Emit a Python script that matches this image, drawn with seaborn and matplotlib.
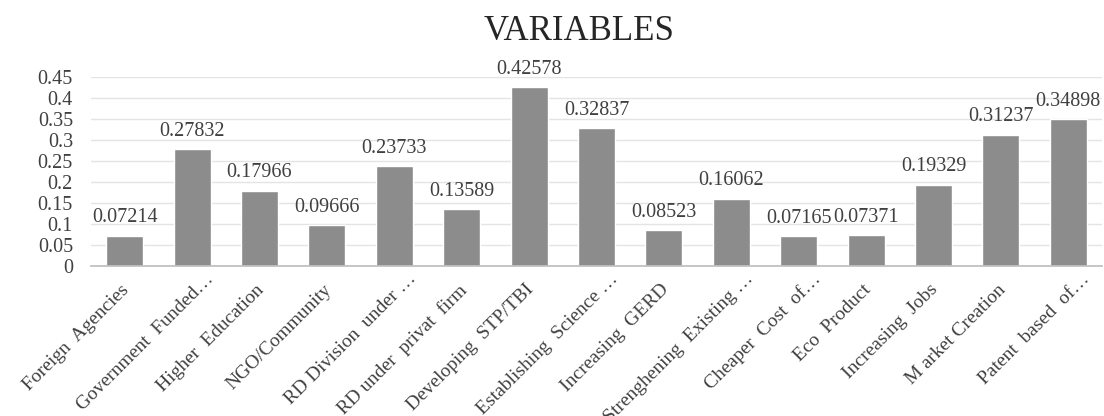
import matplotlib
matplotlib.use('Agg')
import matplotlib.pyplot as plt
import matplotlib.transforms as mtransforms
import numpy as np
import seaborn as sns

varLabels = ['Foreign  Agencies', 'Government  Funded\u2026', 'Higher  Education',
             'NGO/Community', 'RD Division  under \u2026', 'RD under  privat  firm',
             'Developing  STP/TBI', 'Establishing  Science \u2026', 'Increasing  GERD',
             'Strenghening  Existing \u2026', 'Cheaper  Cost  of\u2026', 'Eco  Product',
             'Increasing  Jobs', 'M arket Creation', 'Patent  based  of\u2026']
varValues = [0.07214, 0.27832, 0.17966, 0.09666, 0.23733, 0.13589, 0.42578, 0.32837,
             0.08523, 0.16062, 0.07165, 0.07371, 0.19329, 0.31237, 0.34898]
yTicks = [0, 0.05, 0.1, 0.15, 0.2, 0.25, 0.3, 0.35, 0.4, 0.45]

sns.set_theme(style='white')
plt.rcParams['font.family'] = ['Liberation Serif', 'DejaVu Serif']

fig = plt.figure(figsize=(11.04, 4.16), dpi=100)
ax = fig.add_axes([91/1104, 1-266/416, (1102-91)/1104, (266-77)/416])

sns.barplot(x=varLabels, y=varValues, color='#8c8c8c', saturation=1, width=0.55, ax=ax)
ax.bar_label(ax.containers[0], labels=[str(v) for v in varValues], padding=6,
             fontsize=14.5, color='#404040')

ax.set_ylim(0, 0.45)
ax.set_xlim(-0.5, len(varLabels)-0.5)
ax.set_yticks(yTicks, [f'{v:g}' for v in yTicks], fontsize=14.5, color='#404040')
ax.set_xticks(range(len(varLabels)))
ax.set_xticklabels(varLabels, rotation=45, ha='right', rotation_mode='anchor',
                   fontsize=14, color='#404040')
ax.tick_params(axis='y', pad=13, length=0)
ax.tick_params(axis='x', pad=11, length=0)

# excel keeps truncated labels aligned as if they were longer
for lbl in ax.get_xticklabels():
    if lbl.get_text().endswith('\u2026'):
        dx, dy = 13, 11
    else:
        dx, dy = -4, 0
    lbl.set_transform(lbl.get_transform() + mtransforms.ScaledTranslation(dx/100, dy/100, fig.dpi_scale_trans))

ax.yaxis.grid(True, color='#e4e4e4', linewidth=1)
ax.set_axisbelow(True)
for s in ['top', 'right', 'left']:
    ax.spines[s].set_visible(False)
ax.spines['bottom'].set_color('#bfbfbf')
ax.set_xlabel('')
ax.set_ylabel('')

fig.text(579/1104, 1-40/416, 'VARIABLES', ha='center', va='baseline', fontsize=25, color='#262626')

plt.savefig('out.png', dpi=100)
plt.close()
